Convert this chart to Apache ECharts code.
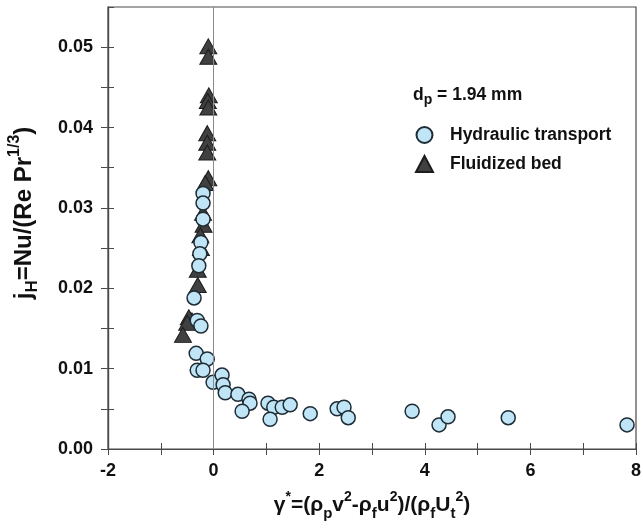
<!DOCTYPE html>
<html>
<head>
<meta charset="utf-8">
<script src="https://cdn.jsdelivr.net/npm/echarts@6/dist/echarts.min.js"></script>
<style>
  html, body { margin: 0; padding: 0; background: #fff; }
  #chart { width: 643px; height: 528px; }
</style>
</head>
<body>
<div id="chart"></div>
<script>
// values
var hydraulicX = [-0.20, -0.20, -0.20, -0.24, -0.26, -0.28, -0.37, -0.31, -0.24, -0.33,
  -0.12, -0.31, -0.20, -0.01, 0.16, 0.18, 0.22, 0.46, 0.67, 0.69,
  0.54, 1.03, 1.14, 1.30, 1.45, 1.07, 1.83, 2.34, 2.47, 2.55,
  3.76, 4.27, 4.44, 5.58, 7.83];
var hydraulicY = [0.0318, 0.0306, 0.0286, 0.0257, 0.0243, 0.0228, 0.0188, 0.0160, 0.0153, 0.0119,
  0.0112, 0.0098, 0.0098, 0.0083, 0.0092, 0.0080, 0.0070, 0.0068, 0.0062, 0.0057,
  0.0047, 0.0057, 0.0052, 0.0052, 0.0055, 0.0037, 0.0044, 0.0050, 0.0052, 0.0039,
  0.0047, 0.0030, 0.0040, 0.0039, 0.0030];

var fluidX = [-0.10, -0.10, -0.09, -0.11, -0.10, -0.12, -0.12, -0.12, -0.10, -0.16,
  -0.20, -0.19, -0.25, -0.24, -0.30, -0.30, -0.41, -0.47, -0.50, -0.58];
var fluidY = [0.0501, 0.0488, 0.0440, 0.0433, 0.0425, 0.0393, 0.0381, 0.0369, 0.0337, 0.0331,
  0.0294, 0.0279, 0.0266, 0.0250, 0.0223, 0.0204, 0.0160, 0.0164, 0.0157, 0.0142];

var xTickLabels = ['-2', '0', '2', '4', '6', '8'];
var yTickLabels = ['0.00', '0.01', '0.02', '0.03', '0.04', '0.05'];

function pairs(xs, ys) {
  var out = [];
  for (var i = 0; i < xs.length; i++) out.push([xs[i], ys[i]]);
  return out;
}

var FONT = '"Liberation Sans", Arial, sans-serif';
var AXIS_COLOR = '#4a4a4a';

function xLabel(v) {
  var s = String(Math.round(v));
  return xTickLabels.indexOf(s) >= 0 ? s : '';
}
function yLabel(v) {
  var s = v.toFixed(2);
  if (Math.abs(v * 100 - Math.round(v * 100)) > 1e-6) return '';
  return yTickLabels.indexOf(s) >= 0 ? s : '';
}

var baseAxisX = {
  type: 'value', min: -2, max: 8, interval: 1,
  splitLine: { show: false },
  axisLine: { onZero: false, lineStyle: { color: AXIS_COLOR, width: 1.2 } }
};
var baseAxisY = {
  type: 'value', min: 0, max: 0.055, interval: 0.005,
  splitLine: { show: false },
  axisLine: { onZero: false, lineStyle: { color: AXIS_COLOR, width: 1.2 } }
};

function richName(size) {
  return {
    b: { fontFamily: FONT, fontWeight: 'bold', fontSize: size, color: '#111', lineHeight: size + 10, verticalAlign: 'middle' },
    sub: { fontFamily: FONT, fontWeight: 'bold', fontSize: Math.round(size * 0.7), color: '#111', lineHeight: Math.round(size * 0.7), verticalAlign: 'bottom' },
    sup: { fontFamily: FONT, fontWeight: 'bold', fontSize: Math.round(size * 0.65), color: '#111', lineHeight: Math.round(size * 0.65), verticalAlign: 'top' }
  };
}

var chart = echarts.init(document.getElementById('chart'));
var option = {
  backgroundColor: '#fff',
  animation: false,
  title: {
    left: 408, top: 78,
    text: '{b|d}{sub|p}{b| = 1.94 mm}',
    textStyle: {
      rich: {
        b: { fontFamily: FONT, fontWeight: 'bold', fontSize: 17.5, color: '#111', lineHeight: 24, verticalAlign: 'middle' },
        sub: { fontFamily: FONT, fontWeight: 'bold', fontSize: 14, color: '#111', lineHeight: 10, verticalAlign: 'bottom' }
      }
    }
  },
  legend: {
    orient: 'vertical',
    left: 410, top: 121,
    itemWidth: 17, itemHeight: 16, itemGap: 11,
    textStyle: { fontFamily: FONT, fontWeight: 'bold', fontSize: 17.5, color: '#111', padding: [0, 0, 0, 12] },
    data: [
      { name: 'Hydraulic transport', icon: 'circle' },
      { name: 'Fluidized bed', icon: 'triangle' }
    ]
  },
  grid: {
    left: 108, right: 7, top: 7, bottom: 79,
    outerBoundsMode: 'none',
    containLabel: false,
    show: true, borderColor: AXIS_COLOR, borderWidth: 1.2
  },
  xAxis: [
    Object.assign({}, baseAxisX, {
      position: 'bottom',
      name: '{b|γ}{sup|*}{b|=(ρ}{sub|p}{b|v}{sup|2}{b|-ρ}{sub|f}{b|u}{sup|2}{b|)/(ρ}{sub|f}{b|U}{sub|t}{sup|2}{b|)}',
      nameLocation: 'middle', nameGap: 41,
      nameTextStyle: { rich: richName(21) },
      axisTick: { inside: false, length: 6, lineStyle: { color: AXIS_COLOR } },
      axisLabel: {
        margin: 13, formatter: xLabel, color: '#111',
        fontFamily: FONT, fontWeight: 'bold', fontSize: 18
      }
    }),
    Object.assign({}, baseAxisX, {
      position: 'bottom',
      axisTick: { inside: true, length: 6, lineStyle: { color: AXIS_COLOR } },
      axisLabel: { show: false }
    })
  ],
  yAxis: [
    Object.assign({}, baseAxisY, {
      position: 'left',
      name: '{b|j}{sub|H}{b|=Nu/(Re Pr}{sup|1/3}{b|)}',
      nameLocation: 'middle', nameGap: 67, nameRotate: 90,
      nameTextStyle: { rich: richName(24), padding: [0, 0, 0, 30] },
      axisTick: { inside: false, length: 7, lineStyle: { color: AXIS_COLOR } },
      axisLabel: {
        margin: 15, formatter: yLabel, color: '#111',
        fontFamily: FONT, fontWeight: 'bold', fontSize: 18,
        showMaxLabel: false
      }
    }),
    Object.assign({}, baseAxisY, {
      position: 'left',
      axisTick: { inside: true, length: 6, lineStyle: { color: AXIS_COLOR } },
      axisLabel: { show: false }
    })
  ],
  series: [
    {
      name: 'Fluidized bed',
      type: 'scatter',
      symbol: 'triangle',
      symbolSize: [17, 15],
      data: pairs(fluidX, fluidY),
      itemStyle: { color: '#404040', borderColor: '#1c1c1c', borderWidth: 1, opacity: 1 },
      markLine: {
        silent: true,
        symbol: 'none',
        label: { show: false },
        lineStyle: { color: '#8a8a8a', width: 1, type: 'solid' },
        data: [{ xAxis: 0 }]
      },
      z: 2
    },
    {
      name: 'Hydraulic transport',
      type: 'scatter',
      symbol: 'circle',
      symbolSize: 14,
      data: pairs(hydraulicX, hydraulicY),
      itemStyle: { color: '#bfe5f6', borderColor: '#1e2c35', borderWidth: 1.5, opacity: 1 },
      z: 3
    }
  ]
};
chart.setOption(option);
</script>
</body>
</html>
